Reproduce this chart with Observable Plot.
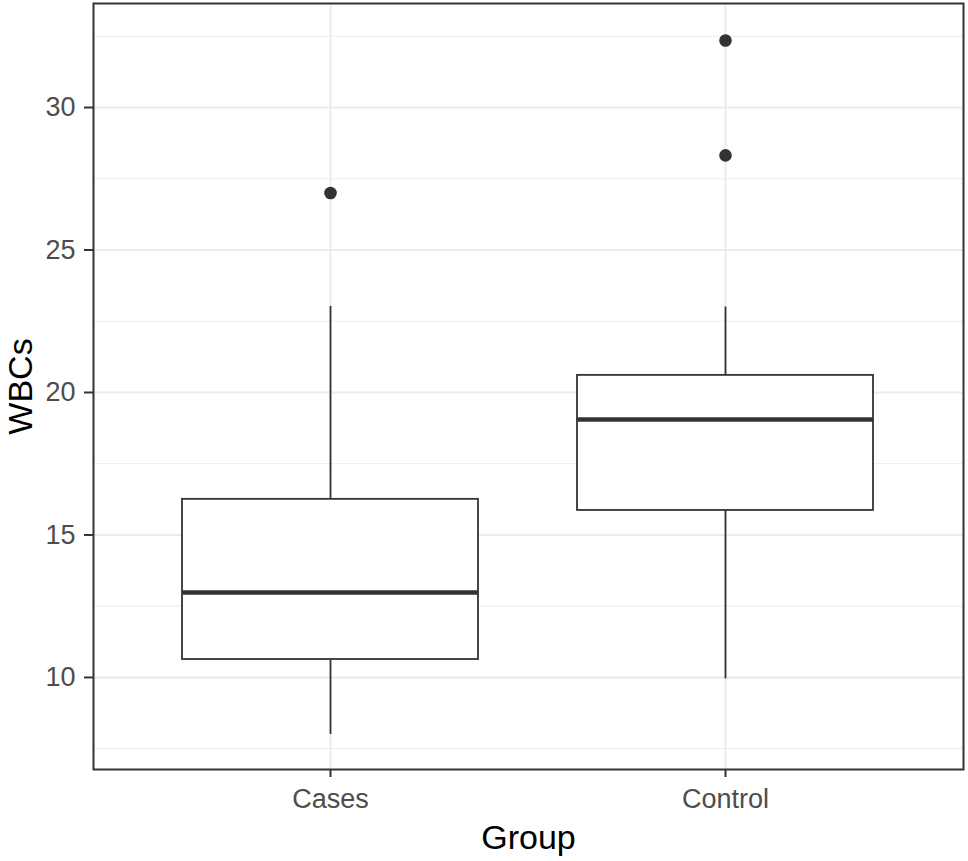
<!DOCTYPE html>
<html>
<head>
<meta charset="utf-8">
<script src="https://cdn.jsdelivr.net/npm/d3@7"></script>
<script src="https://cdn.jsdelivr.net/npm/@observablehq/plot@0.6"></script>
<style>
  html, body { margin: 0; padding: 0; background: #fff; }
</style>
</head>
<body>
<div id="chart"></div>
<script>
const groups = ["Cases", "Control"];
const lower = [8.0, 9.95];
const q1 = [10.63, 15.86];
const median = [12.98, 19.05];
const q3 = [16.25, 20.6];
const upper = [23.02, 23.0];
const outlierGroup = ["Cases", "Control", "Control"];
const outlierValue = [27.0, 32.35, 28.32];
const yTicks = [10, 15, 20, 25, 30];
const yMinor = [7.5, 12.5, 17.5, 22.5, 27.5, 32.5];

const boxes = groups.map((g, i) => ({group: g, lower: lower[i], q1: q1[i], median: median[i], q3: q3[i], upper: upper[i]}));
const outliers = outlierGroup.map((g, i) => ({group: g, value: outlierValue[i]}));

const chart = Plot.plot({
  width: 968,
  height: 861,
  marginLeft: 93,
  marginRight: 5,
  marginTop: 3,
  marginBottom: 92,
  style: {fontFamily: "'Liberation Sans', Arial, sans-serif", fontSize: "27px", background: "#fff"},
  x: {type: "band", domain: groups, paddingInner: 0.25, paddingOuter: 0.225, label: null},
  y: {domain: [6.77, 33.65], label: null},
  marks: [
    Plot.ruleY(yMinor, {stroke: "#EBEBEB", strokeWidth: 1}),
    Plot.gridY({ticks: yTicks, stroke: "#EBEBEB", strokeOpacity: 1, strokeWidth: 2}),
    Plot.gridX({stroke: "#EBEBEB", strokeOpacity: 1, strokeWidth: 2}),
    Plot.ruleX(boxes, {x: "group", y1: "q3", y2: "upper", stroke: "#333", strokeWidth: 1.8}),
    Plot.ruleX(boxes, {x: "group", y1: "lower", y2: "q1", stroke: "#333", strokeWidth: 1.8}),
    Plot.barY(boxes, {x: "group", y1: "q1", y2: "q3", fill: "#fff", stroke: "#333", strokeWidth: 1.8}),
    Plot.tickY(boxes, {x: "group", y: "median", stroke: "#333", strokeWidth: 4.5}),
    Plot.dot(outliers, {x: "group", y: "value", r: 6.3, fill: "#333", stroke: "none"}),
    Plot.frame({stroke: "#333", strokeWidth: 2}),
    Plot.axisY({ticks: yTicks, tickSize: 9, tickPadding: 9, stroke: "#333", strokeWidth: 2, fill: "#4D4D4D", label: null}),
    Plot.axisX({tickSize: 8, tickPadding: 11, stroke: "#333", strokeWidth: 2, fill: "#4D4D4D", label: null}),
    Plot.text(["WBCs"], {frameAnchor: "left", dx: -62, rotate: -90, lineAnchor: "bottom", textAnchor: "middle", fontSize: 34, fill: "#000"}),
    Plot.text(["Group"], {frameAnchor: "bottom", dy: 79, lineAnchor: "bottom", textAnchor: "middle", fontSize: 34, fill: "#000"})
  ]
});
document.getElementById("chart").appendChild(chart);
</script>
</body>
</html>
